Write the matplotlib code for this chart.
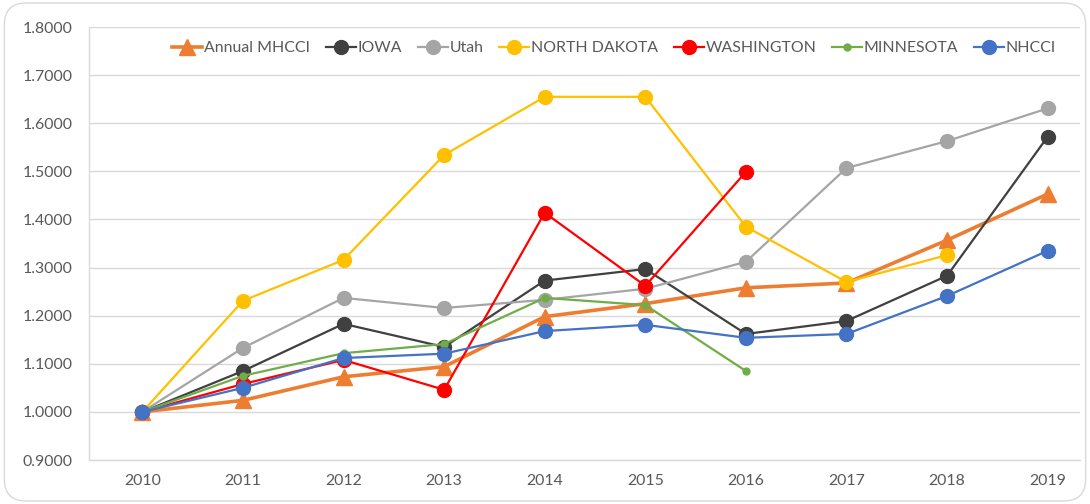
import matplotlib
matplotlib.use("Agg")
import matplotlib.pyplot as plt
from matplotlib.patches import FancyBboxPatch
import numpy as np

years = [2010, 2011, 2012, 2013, 2014, 2015, 2016, 2017, 2018, 2019]
annual_mhcci = [1.0, 1.024, 1.073, 1.094, 1.198, 1.225, 1.258, 1.268, 1.357, 1.453]
iowa = [1.0, 1.085, 1.183, 1.135, 1.273, 1.297, 1.162, 1.189, 1.283, 1.572]
utah = [1.0, 1.133, 1.237, 1.216, 1.233, 1.256, 1.312, 1.507, 1.563, 1.631]
north_dakota = [1.0, 1.231, 1.316, 1.534, 1.655, 1.655, 1.385, 1.270, 1.326, None]
washington = [1.0, 1.058, 1.108, 1.046, 1.414, 1.262, 1.499, None, None, None]
minnesota = [1.0, 1.075, 1.122, 1.141, 1.237, 1.222, 1.085, None, None, None]
nhcci = [1.0, 1.050, 1.112, 1.121, 1.168, 1.181, 1.154, 1.162, 1.241, 1.335]

yticks = [0.9, 1.0, 1.1, 1.2, 1.3, 1.4, 1.5, 1.6, 1.7, 1.8]

plt.rcParams['font.family'] = ['Lato', 'DejaVu Sans']

fig = plt.figure(figsize=(10.9, 5.04), dpi=100)
ax = fig.add_axes([0.0817, 0.0873, 0.909, 0.859])

x = np.arange(len(years))

def arr(v):
    return np.array([np.nan if a is None else a for a in v], dtype=float)

series = [
    ("Annual MHCCI", annual_mhcci, "#ED7D31", "^", 11, 2.6),
    ("IOWA", iowa, "#404040", "o", 10, 1.6),
    ("Utah", utah, "#A5A5A5", "o", 10, 1.6),
    ("NORTH DAKOTA", north_dakota, "#FFC000", "o", 10, 1.6),
    ("WASHINGTON", washington, "#FF0000", "o", 10, 1.6),
    ("MINNESOTA", minnesota, "#70AD47", "o", 5, 1.6),
    ("NHCCI", nhcci, "#4472C4", "o", 10, 1.6),
]
for name, vals, col, mk, ms, lw in series:
    ax.plot(x, arr(vals), color=col, marker=mk, markersize=ms, linewidth=lw,
            label=name, markeredgecolor=col)

ax.set_ylim(0.9, 1.8)
ax.set_xlim(-0.53, 9.32)
ax.set_yticks(yticks)
ax.set_yticklabels([f"{v:.4f}" for v in yticks])
ax.set_xticks(x)
ax.set_xticklabels([str(y) for y in years])
ax.grid(axis='y', color='#D9D9D9', linewidth=1)
ax.set_axisbelow(True)
for s in ['top', 'right']:
    ax.spines[s].set_visible(False)
for s in ['left', 'bottom']:
    ax.spines[s].set_color('#D9D9D9')
    ax.spines[s].set_linewidth(1)
ax.tick_params(axis='both', length=0, labelsize=11.4, colors='#595959', pad=10)
ax.tick_params(axis='y', pad=12)

leg = ax.legend(loc='upper center', bbox_to_anchor=(0.53, 1.0), ncol=7, frameon=False,
                fontsize=11.4, handlelength=1.9, handletextpad=0.1, columnspacing=1.0,
                borderaxespad=0.5)
for t in leg.get_texts():
    t.set_color('#595959')

border = FancyBboxPatch((0.004, 0.006), 0.992, 0.988, boxstyle="round,pad=0,rounding_size=0.02",
                        transform=fig.transFigure, facecolor='none', edgecolor='#D9D9D9',
                        linewidth=1, mutation_aspect=1090/504)
fig.patches.append(border)

fig.savefig("out.png", dpi=100)
